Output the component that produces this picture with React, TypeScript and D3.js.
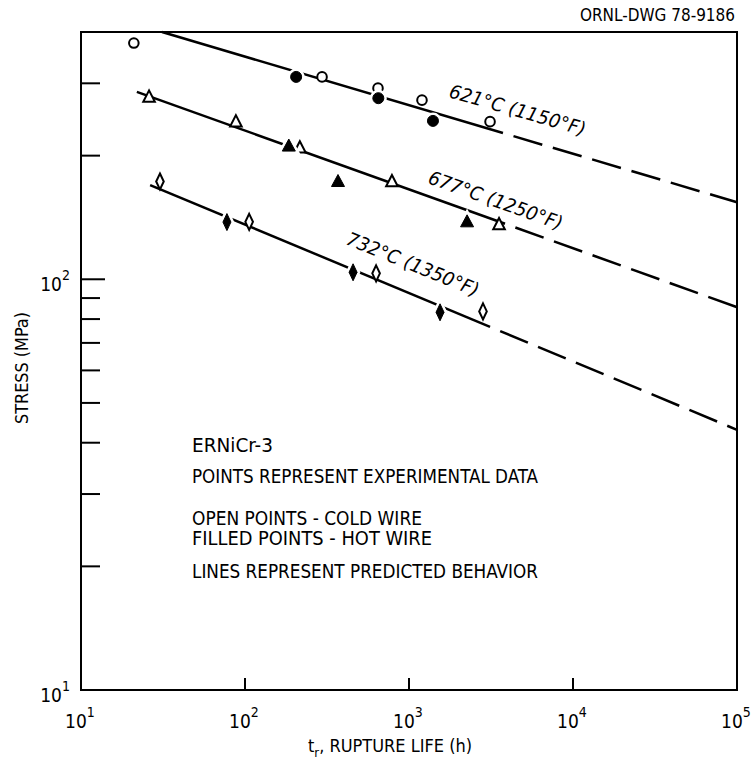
import React from "react";
import * as d3 from "d3";

// ---- data ----
const xTickValues = [10, 100, 1000, 10000, 100000];
const xTickExp = [1, 2, 3, 4, 5];
const yMajorValues = [10, 100];
const yMajorExp = [1, 2];
const yMinorValues = [20, 30, 40, 50, 60, 70, 80, 90, 200, 300];

// [rupture life (h), stress (MPa)]
const open621: [number, number][] = [[21, 376], [295, 311], [647, 292], [1200, 273], [3120, 242]];
const filled621: [number, number][] = [[205, 311], [650, 276], [1400, 243]];
const open677: [number, number][] = [[26, 278], [88, 242], [216, 209], [787, 173], [3540, 136]];
const filled677: [number, number][] = [[185, 211], [369, 173], [2260, 138]];
const open732: [number, number][] = [[30.3, 173], [106, 138], [630, 103.4], [2826, 83.5]];
const filled732: [number, number][] = [[77.6, 137.8], [456, 104], [1546, 83.1]];

// predicted lines: start, end of solid part, end of dashed extrapolation
const line621: [number, number][] = [[31.2, 400], [3740, 227], [100000, 154]];
const line677: [number, number][] = [[21.9, 286], [3850, 136.5], [100000, 85.5]];
const line732: [number, number][] = [[26.4, 169.6], [3120, 76.6], [100000, 43.0]];

const lineLabels = ["621°C (1150°F)", "677°C (1250°F)", "732°C (1350°F)"];
const noteLines = [
  "ERNiCr-3",
  "POINTS REPRESENT EXPERIMENTAL DATA",
  "OPEN POINTS - COLD WIRE",
  "FILLED POINTS - HOT WIRE",
  "LINES REPRESENT PREDICTED BEHAVIOR",
];

const W = 754;
const H = 766;
const M = { left: 81, right: 737, top: 32, bottom: 690 };
const FONT = "'DejaVu Sans Condensed', 'DejaVu Sans', sans-serif";

const x = d3.scaleLog().domain([10, 100000]).range([M.left, M.right]);
const y = d3.scaleLog().domain([10, 400]).range([M.bottom, M.top]);

const lineGen = d3
  .line<[number, number]>()
  .x((d) => x(d[0]))
  .y((d) => y(d[1]));

type Shape = "circle" | "triangle" | "diamond";

function shapePath(shape: Shape, filled: boolean): string {
  if (shape === "circle") {
    const r = filled ? 5.5 : 4.8;
    return `M${-r},0A${r},${r} 0 1,0 ${r},0A${r},${r} 0 1,0 ${-r},0Z`;
  }
  if (shape === "triangle") {
    return filled ? "M0,-7L6.5,5L-6.5,5Z" : "M0,-6.5L5.8,4.8L-5.8,4.8Z";
  }
  return filled ? "M0,-8.5L4,0L0,8.5L-4,0Z" : "M0,-8L3.8,0L0,8L-3.8,0Z";
}

function Markers({ data, shape, filled }: { data: [number, number][]; shape: Shape; filled: boolean }) {
  const p = shapePath(shape, filled);
  return (
    <g>
      {data.map((d, i) => (
        <g key={i} transform={`translate(${x(d[0])},${y(d[1])})`}>
          {filled && <path d={p} fill="white" stroke="white" strokeWidth={6} />}
          <path d={p} fill={filled ? "black" : "white"} stroke="black" strokeWidth={filled ? 1 : 2} />
        </g>
      ))}
    </g>
  );
}

function PredLine({ pts }: { pts: [number, number][] }) {
  return (
    <g fill="none" stroke="black" strokeWidth={2.5}>
      <path d={lineGen([pts[0], pts[1]]) || ""} />
      <path d={lineGen([pts[1], pts[2]]) || ""} strokeDasharray="30 11" strokeDashoffset={30} />
    </g>
  );
}

export default function App() {
  const labelPos = [
    { lx: 448, ly: 97, rot: 16 },
    { lx: 427, ly: 183, rot: 19.5 },
    { lx: 345, ly: 244, rot: 22 },
  ];
  const noteY = [452, 483, 525, 545, 578];
  const noteLen = [81, 346, 230, 240, 346];
  return (
    <svg
      width={W}
      height={H}
      style={{ position: "absolute", left: 0, top: 0, background: "white" }}
      fontFamily={FONT}
    >
      <rect x={0} y={0} width={W} height={H} fill="white" />
      {/* header */}
      <text x={735} y={21} fontSize={18} textAnchor="end" textLength={155} lengthAdjust="spacingAndGlyphs">
        ORNL-DWG 78-9186
      </text>

      {/* lines */}
      <PredLine pts={line621} />
      <PredLine pts={line677} />
      <PredLine pts={line732} />

      {/* markers */}
      <Markers data={open621} shape="circle" filled={false} />
      <Markers data={filled621} shape="circle" filled={true} />
      <Markers data={open677} shape="triangle" filled={false} />
      <Markers data={filled677} shape="triangle" filled={true} />
      <Markers data={open732} shape="diamond" filled={false} />
      <Markers data={filled732} shape="diamond" filled={true} />

      {/* frame */}
      <rect
        x={M.left}
        y={M.top}
        width={M.right - M.left}
        height={M.bottom - M.top}
        fill="none"
        stroke="black"
        strokeWidth={2}
      />

      {/* y ticks */}
      {yMajorValues.map((v) => (
        <line key={"ym" + v} x1={M.left} x2={M.left + 24} y1={y(v)} y2={y(v)} stroke="black" strokeWidth={2} />
      ))}
      {yMinorValues.map((v) => (
        <line key={"yn" + v} x1={M.left} x2={M.left + 19} y1={y(v)} y2={y(v)} stroke="black" strokeWidth={2} />
      ))}
      {yMajorValues.map((v, i) => (
        <text key={"yl" + v} x={70} y={y(v) + 12} fontSize={19} textAnchor="end">
          10
          <tspan dy={-11} fontSize={14}>
            {yMajorExp[i]}
          </tspan>
        </text>
      ))}

      {/* x ticks */}
      {xTickValues.slice(1, -1).map((v) => (
        <line key={"xt" + v} x1={x(v)} x2={x(v)} y1={M.bottom} y2={M.bottom - 12} stroke="black" strokeWidth={2} />
      ))}
      {xTickValues.map((v, i) => (
        <text key={"xl" + v} x={x(v) - 1} y={728} fontSize={19} textAnchor="middle">
          10
          <tspan dy={-11} fontSize={14}>
            {xTickExp[i]}
          </tspan>
        </text>
      ))}

      {/* axis titles */}
      <text x={308} y={752} fontSize={18}>
        t
        <tspan dy={5} fontSize={13}>r</tspan>
        <tspan dy={-5}>, RUPTURE LIFE (h)</tspan>
      </text>
      <text
        transform={`translate(28,368) rotate(-90)`}
        fontSize={18}
        textAnchor="middle"
        textLength={112}
        lengthAdjust="spacingAndGlyphs"
      >
        STRESS (MPa)
      </text>

      {/* line labels */}
      {lineLabels.map((t, i) => (
        <text
          key={t}
          transform={`translate(${labelPos[i].lx},${labelPos[i].ly}) rotate(${labelPos[i].rot})`}
          fontSize={19}
          fontStyle="italic"
          textLength={141}
          lengthAdjust="spacingAndGlyphs"
        >
          {t}
        </text>
      ))}

      {/* notes */}
      {noteLines.map((t, i) => (
        <text key={t} x={192} y={noteY[i]} fontSize={19} textLength={noteLen[i]} lengthAdjust="spacingAndGlyphs">
          {t}
        </text>
      ))}
    </svg>
  );
}
